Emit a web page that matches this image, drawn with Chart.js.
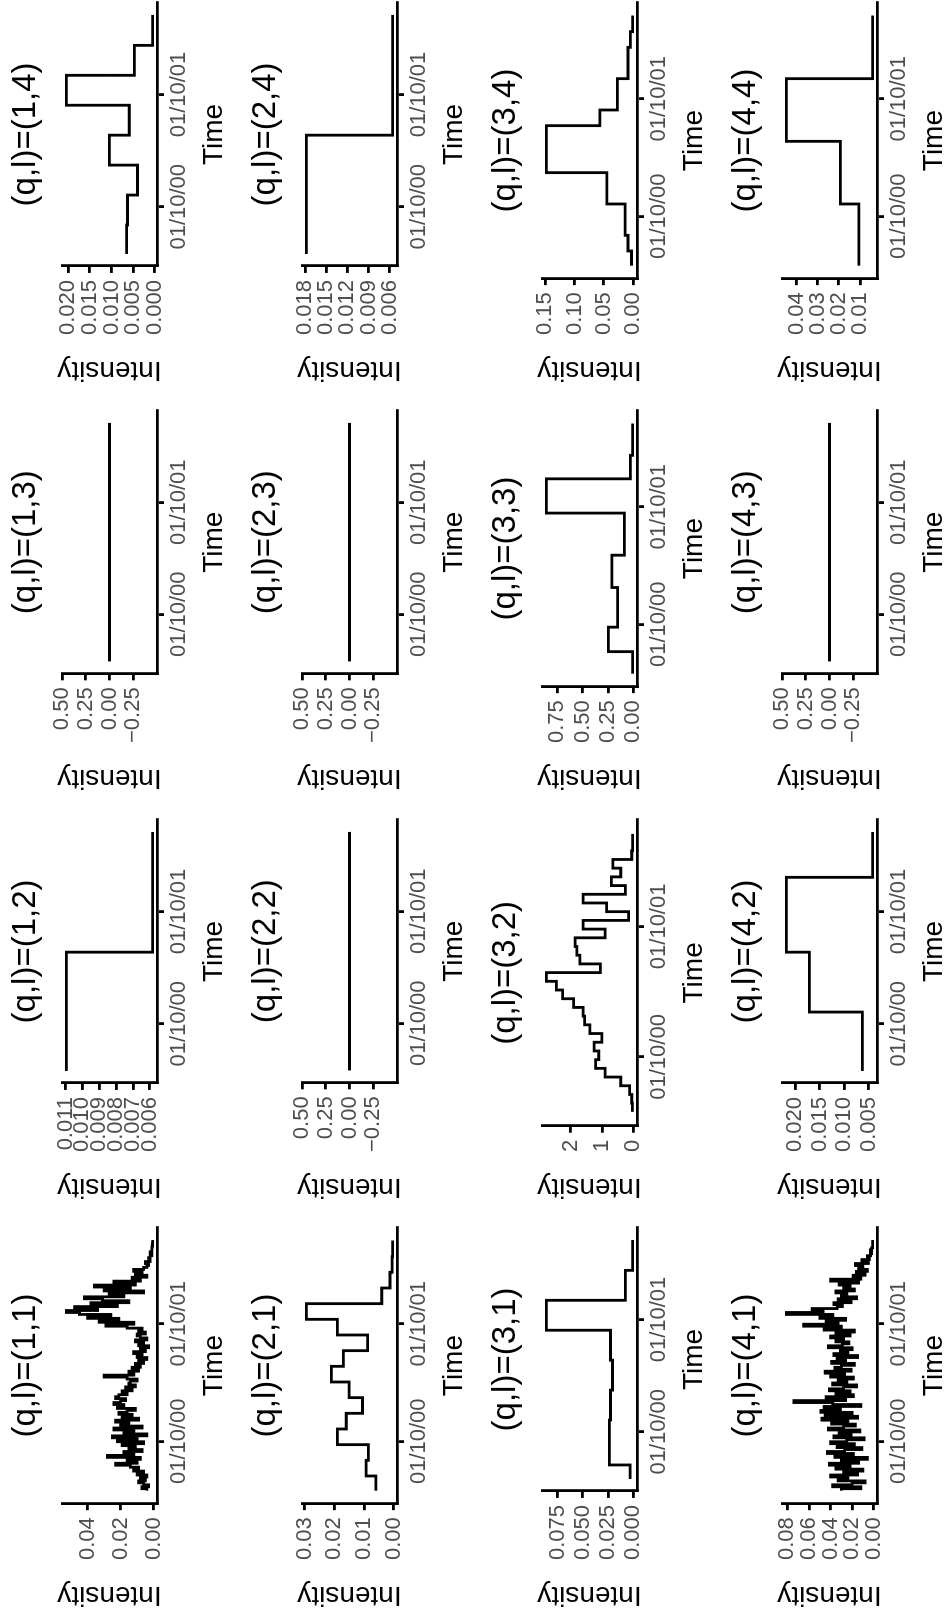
<!DOCTYPE html>
<html>
<head>
<meta charset="utf-8">
<script src="https://cdn.jsdelivr.net/npm/chart.js@4.4.1/dist/chart.umd.min.js"></script>
<style>
  html, body { margin: 0; padding: 0; background: #fff; overflow: hidden; }
  body { width: 947px; height: 1615px; position: relative; }
  /* the figure is drawn landscape, then turned a quarter turn to the left */
  #fig { position: absolute; left: 0; top: 0; width: 1615px; height: 960px;
         transform-origin: 0 0; transform: translate(0, 1615px) rotate(-90deg); }
  #fig canvas { position: absolute; }
</style>
</head>
<body>
<div id="fig"></div>
<script>
// time is in months counted from 01/10/00
const timeTicks = [0, 12];
const timeTickLabels = ['01/10/00', '01/10/01'];
const timeFirst = -5.05;
const timeLast = 20.5;

// (1,1) and (4,1): fine series, one value every 0.2 months from timeFirst
const fineStep = 0.2;
const v11 = [
  0.004, 0.007, 0.003, 0.006, 0.009, 0.005, 0.008, 0.004, 0.010, 0.006, 0.012,
  0.009, 0.014, 0.023, 0.010, 0.016, 0.008, 0.028, 0.012, 0.018, 0.007, 0.015, 0.011, 0.019,
  0.006, 0.022, 0.010, 0.025, 0.004, 0.018, 0.012, 0.024, 0.007, 0.020, 0.015, 0.023,
  0.009, 0.019, 0.013, 0.021, 0.016, 0.011, 0.022, 0.018, 0.024, 0.020, 0.017, 0.023,
  0.021, 0.016, 0.019, 0.013, 0.017, 0.011, 0.015, 0.014, 0.010, 0.016, 0.030, 0.012, 0.015, 0.009, 0.013,
  0.008, 0.011, 0.006, 0.009, 0.004, 0.010, 0.007, 0.012, 0.005, 0.008,
  0.003, 0.009, 0.006, 0.011, 0.004, 0.008, 0.010, 0.005, 0.009, 0.007,
  0.016, 0.029, 0.012, 0.033, 0.021, 0.040, 0.026, 0.045, 0.053, 0.034, 0.048, 0.022,
  0.038, 0.015, 0.031, 0.042, 0.018, 0.027, 0.006, 0.030, 0.014, 0.036, 0.011, 0.024,
  0.008, 0.013, 0.004, 0.011, 0.007, 0.012, 0.006,
  0.004, 0.003, 0.005, 0.002, 0.003, 0.002, 0.001, 0.002, 0.001, 0.001, 0.0008, 0.0006, 0.0005, 0.0005
];
const v41 = [
  0.030, 0.012, 0.038, 0.020, 0.008, 0.033, 0.024, 0.040, 0.015, 0.028, 0.010, 0.035,
  0.022, 0.041, 0.014, 0.030, 0.006, 0.036, 0.019, 0.043, 0.027, 0.011, 0.034, 0.018, 0.040,
  0.025, 0.009, 0.037, 0.021, 0.032, 0.013, 0.042, 0.028, 0.017, 0.039, 0.024, 0.048, 0.015, 0.045,
  0.020, 0.049, 0.031, 0.046, 0.012, 0.038, 0.074, 0.026, 0.044, 0.019,
  0.035, 0.022, 0.041, 0.028, 0.016, 0.038, 0.025, 0.033, 0.019, 0.040, 0.027, 0.045, 0.021, 0.036,
  0.030, 0.018, 0.039, 0.026, 0.034, 0.015, 0.037, 0.024, 0.031, 0.020, 0.042, 0.029, 0.023, 0.035,
  0.028, 0.040, 0.022, 0.035, 0.018, 0.046, 0.030, 0.065, 0.033, 0.044, 0.026, 0.050, 0.038, 0.081, 0.047, 0.057, 0.034,
  0.029, 0.037, 0.021, 0.033, 0.016, 0.030, 0.025, 0.035, 0.018, 0.028, 0.022, 0.032, 0.014, 0.040,
  0.012, 0.019, 0.008, 0.016, 0.006, 0.014, 0.010, 0.017, 0.005, 0.011,
  0.004, 0.006, 0.003, 0.002, 0.003, 0.002, 0.001, 0.001, 0.001, 0.001
];

// step series: change times (one more than values) and levels
const tFlat = [-5.05, 20.5];
const vFlat = [0];
const t12 = [-5.05, 7.65, 20.5];
const v12 = [0.01095, 0.00583];
const t14 = [-5.05, -1.95, 1.25, 4.45, 7.65, 10.85, 14.05, 17.25, 20.5];
const v14 = [0.0065, 0.0063, 0.0040, 0.0105, 0.0059, 0.0204, 0.0047, 0.0005];
const t21 = [-5.05, -3.55, -1.95, -0.35, 1.25, 2.85, 4.45, 6.05, 7.65, 9.25, 10.85, 12.45, 14.05, 15.65, 17.25, 18.85, 20.5];
const v21 = [0.006, 0.0093, 0.0085, 0.019, 0.016, 0.0105, 0.015, 0.021, 0.017, 0.0088, 0.019, 0.0295, 0.004, 0.0012, 0.0005, 0.0003];
const t24 = [-5.05, 7.65, 20.5];
const v24 = [0.0178, 0.0056];
const t31 = [-5.05, -3.55, 1.25, 4.45, 7.65, 10.85, 14.05, 17.25, 20.5];
const v31 = [0.003, 0.0237, 0.0225, 0.0205, 0.0225, 0.0864, 0.0077, 0.0004];
const t32 = [-5.05, -4.25, -3.45, -2.65, -1.85, -1.05, -0.25, 0.55, 1.35, 2.15, 2.95, 3.75, 4.55, 5.35, 6.15, 6.95,
             7.75, 8.55, 9.35, 10.15, 10.95, 11.75, 12.55, 13.35, 14.15, 14.95, 15.75, 16.55, 17.35, 18.15, 18.95, 19.75, 20.5];
const v32 = [0.03, 0.05, 0.12, 0.40, 0.90, 1.20, 1.10, 1.25, 1.00, 1.38, 1.55, 1.60, 1.90, 2.25, 2.45, 2.77,
             1.05, 1.70, 1.80, 1.85, 0.90, 1.60, 0.15, 0.85, 1.60, 0.25, 0.70, 0.40, 0.65, 0.05, 0.02, 0.02];
const t33 = [-5.05, -2.8, -0.3, 3.75, 7.05, 11.35, 14.85, 17.25, 20.5];
const v33 = [0.005, 0.245, 0.155, 0.21, 0.088, 0.86, 0.027, 0.005];
const t34 = [-5.05, -3.55, -1.95, 1.25, 4.45, 9.25, 10.85, 14.05, 17.25, 18.85, 20.5];
const v34 = [0.003, 0.009, 0.014, 0.045, 0.148, 0.057, 0.027, 0.009, 0.005, 0.001];
const t42 = [-5.05, 1.25, 7.65, 15.65, 20.5];
const v42 = [0.0063, 0.0171, 0.0218, 0.0042];
const t44 = [-5.05, 1.25, 7.65, 14.05, 20.5];
const v44 = [0.0105, 0.0193, 0.0449, 0.0040];

// y tick values for each panel
const yt11 = [0, 0.02, 0.04];
const yt12 = [0.006, 0.007, 0.008, 0.009, 0.010, 0.011];
const ytFlat = [-0.25, 0, 0.25, 0.5];
const yt14 = [0, 0.005, 0.010, 0.015, 0.020];
const yt21 = [0, 0.01, 0.02, 0.03];
const yt24 = [0.006, 0.009, 0.012, 0.015, 0.018];
const yt31 = [0, 0.025, 0.050, 0.075];
const yt32 = [0, 1, 2];
const yt33 = [0, 0.25, 0.50, 0.75];
const yt34 = [0, 0.05, 0.10, 0.15];
const yt41 = [0, 0.02, 0.04, 0.06, 0.08];
const yt42 = [0.005, 0.010, 0.015, 0.020];
const yt44 = [0.01, 0.02, 0.03, 0.04];

const FONT = '"Liberation Sans", Arial, sans-serif';
const colLeft = [-1, 407, 816, 1224];
const rowTop = [0, 240, 480, 720];

function fineTimes(n) {
  const t = [];
  for (let i = 0; i <= n; i++) t.push(timeFirst + i * fineStep);
  return t;
}

const panels = [
  [1, 1, fineTimes(v11.length), v11, yt11, 2],
  [1, 2, t12, v12, yt12, 3],
  [1, 3, tFlat, vFlat, ytFlat, 2],
  [1, 4, t14, v14, yt14, 3],
  [2, 1, t21, v21, yt21, 2],
  [2, 2, tFlat, vFlat, ytFlat, 2],
  [2, 3, tFlat, vFlat, ytFlat, 2],
  [2, 4, t24, v24, yt24, 3],
  [3, 1, t31, v31, yt31, 3],
  [3, 2, t32, v32, yt32, 0],
  [3, 3, t33, v33, yt33, 2],
  [3, 4, t34, v34, yt34, 2],
  [4, 1, fineTimes(v41.length), v41, yt41, 2],
  [4, 2, t42, v42, yt42, 3],
  [4, 3, tFlat, vFlat, ytFlat, 2],
  [4, 4, t44, v44, yt44, 2]
];

const span = timeLast - timeFirst;
const xMin = timeFirst - 0.05 * span;
const xMax = timeLast + 0.05 * span;

const fig = document.getElementById('fig');

panels.forEach(([q, l, times, vals, yTicks, dec]) => {
  const pts = vals.map((v, i) => ({ x: times[i], y: v }));
  pts.push({ x: times[times.length - 1], y: vals[vals.length - 1] });

  let lo = Math.min(...vals), hi = Math.max(...vals);
  if (hi - lo === 0) { lo -= 0.5; hi += 0.5; }
  else { const r = hi - lo; lo -= 0.05 * r; hi += 0.05 * r; }

  const cv = document.createElement('canvas');
  cv.width = 392; cv.height = 236;
  cv.style.width = '392px'; cv.style.height = '236px';
  cv.style.left = colLeft[l - 1] + 'px';
  cv.style.top = rowTop[q - 1] + 'px';
  fig.appendChild(cv);

  const axisLine = { display: true, color: '#000', width: 2.8 };
  const tickMarks = { drawOnChartArea: false, drawTicks: true, tickLength: 7, color: '#000', lineWidth: 2.8 };

  new Chart(cv, {
    type: 'line',
    data: {
      datasets: [{
        data: pts,
        stepped: true,
        borderColor: '#000',
        borderWidth: 2.8,
        pointRadius: 0,
        fill: false
      }]
    },
    options: {
      responsive: false,
      animation: false,
      devicePixelRatio: 1,
      layout: { padding: { left: 0, right: 4, top: 0, bottom: 3.7 } },
      plugins: {
        legend: { display: false },
        tooltip: { enabled: false },
        title: {
          display: true,
          text: '(q,l)=(' + q + ',' + l + ')',
          fullSize: false,
          color: '#000',
          font: { family: FONT, size: 33, weight: 'normal', lineHeight: 1 },
          padding: { top: 9.3, bottom: 19.7 }
        }
      },
      scales: {
        x: {
          type: 'linear',
          min: xMin,
          max: xMax,
          afterBuildTicks: s => { s.ticks = timeTicks.map(v => ({ value: v })); },
          ticks: {
            autoSkip: false, maxRotation: 0, minRotation: 0, padding: 4,
            color: '#4D4D4D',
            font: { family: FONT, size: 22, lineHeight: 1 },
            callback: v => timeTickLabels[timeTicks.indexOf(v)]
          },
          grid: tickMarks,
          border: axisLine,
          title: {
            display: true, text: 'Time', color: '#000',
            font: { family: FONT, size: 28, lineHeight: 1 },
            padding: { top: 6.3, bottom: 4 }
          }
        },
        y: {
          type: 'linear',
          min: lo,
          max: hi,
          afterBuildTicks: s => { s.ticks = yTicks.map(v => ({ value: v })); },
          ticks: {
            autoSkip: false, padding: 7,
            color: '#4D4D4D',
            font: { family: FONT, size: 22, lineHeight: 1 },
            callback: v => v.toFixed(dec).replace('-', '\u2212')
          },
          grid: tickMarks,
          border: axisLine,
          title: {
            display: true, text: 'Intensity', color: '#000',
            font: { family: FONT, size: 28, lineHeight: 1 },
            padding: { top: 7, bottom: 14 }
          }
        }
      }
    }
  });
});
</script>
</body>
</html>
